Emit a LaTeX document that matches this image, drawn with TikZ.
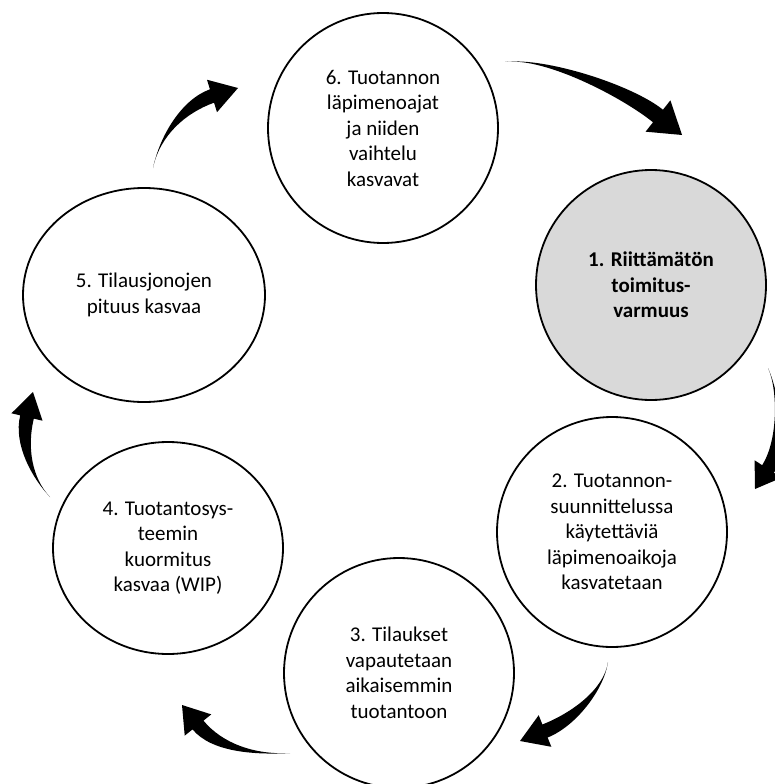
\documentclass[tikz,border=0pt]{standalone}
\usepackage{fontspec}
\setmainfont{Carlito}
\usetikzlibrary{calc,shapes.geometric}

\tikzset{
  stage/.style={draw=black, line width=1.8pt, fill=white, circle,
    minimum size=230pt, inner sep=0pt, align=center,
    font=\fontsize{21}{25.5}\selectfont, text=black},
  stageoval/.style={stage, ellipse},
  keystage/.style={stage, fill=keygray, font=\fontsize{21}{25.5}\selectfont\bfseries},
  arrowfill/.style={fill=black}
}
\definecolor{keygray}{HTML}{D9D9D9}

% Tapered curved block arrow:
% #1 name, #2 tail, #3 first control, #4 second control, #5 head base centre,
% #6 tip, #7 half width of shaft at the head, #8 half width of the head
\newcommand{\flowarrow}[8]{%
  \coordinate (#1t) at (#2);
  \coordinate (#1c) at (#3);
  \coordinate (#1d) at (#4);
  \coordinate (#1b) at (#5);
  \coordinate (#1p) at (#6);
  \coordinate (#1l) at ($(#1b)!#7!90:(#1p)$);
  \coordinate (#1r) at ($(#1b)!#7!-90:(#1p)$);
  \coordinate (#1wl) at ($(#1b)!#8!90:(#1p)$);
  \coordinate (#1wr) at ($(#1b)!#8!-90:(#1p)$);
  \fill[arrowfill] (#1t) .. controls (#1c) and ($(#1d)+(#1l)-(#1b)$) .. (#1l)
    -- (#1wl) -- (#1p) -- (#1wr) -- (#1r)
    .. controls ($(#1d)+(#1r)-(#1b)$) and (#1c) .. (#1t) -- cycle;
}

\begin{document}
\begin{tikzpicture}[x=1pt, y=-1pt]
  \path[use as bounding box, clip] (0,0) rectangle (775,784);
  \fill[white] (0,0) rectangle (775,784);

  % stages of the cycle
  \node[stage] (c6) at (383,128)
    {6. Tuotannon\\läpimenoajat\\ja niiden\\vaihtelu\\kasvavat};
  \node[keystage] (c1) at (651,285)
    {1. Riittämätön\\toimitus-\\varmuus};
  \node[stage] (c2) at (612,532)
    {2. Tuotannon-\\suunnittelussa\\käytettäviä\\läpimenoaikoja\\kasvatetaan};
  \node[stage] (c3) at (399,673)
    {3. Tilaukset\\vapautetaan\\aikaisemmin\\tuotantoon};
  \node[stageoval, minimum width=230pt, minimum height=212pt] (c4) at (168,548)
    {4. Tuotantosys-\\teemin\\kuormitus\\kasvaa (WIP)};
  \node[stageoval, minimum width=242pt, minimum height=214pt] (c5) at (144,295)
    {5. Tilausjonojen\\pituus kasvaa};

  % arrows between the stages
  \flowarrow{a}{505,62}{545,57}{627,91}{658,116}{682,135}{8pt}{20pt}
  \flowarrow{b}{768,368}{778,390}{784,444}{768,469}{755,489}{7pt}{16pt}
  \flowarrow{g}{608,662}{604,690}{573,720}{545,731}{520,741}{7pt}{17pt}
  \flowarrow{d}{290,753}{255,755}{217,748}{198,725}{182,705}{7pt}{17pt}
  \flowarrow{e}{50,497}{32,478}{20,446}{27,417}{33,392}{7pt}{16pt}
  \flowarrow{f}{153,168}{160,135}{184,106}{212,96}{238,88}{7pt}{17pt}
\end{tikzpicture}
\end{document}
